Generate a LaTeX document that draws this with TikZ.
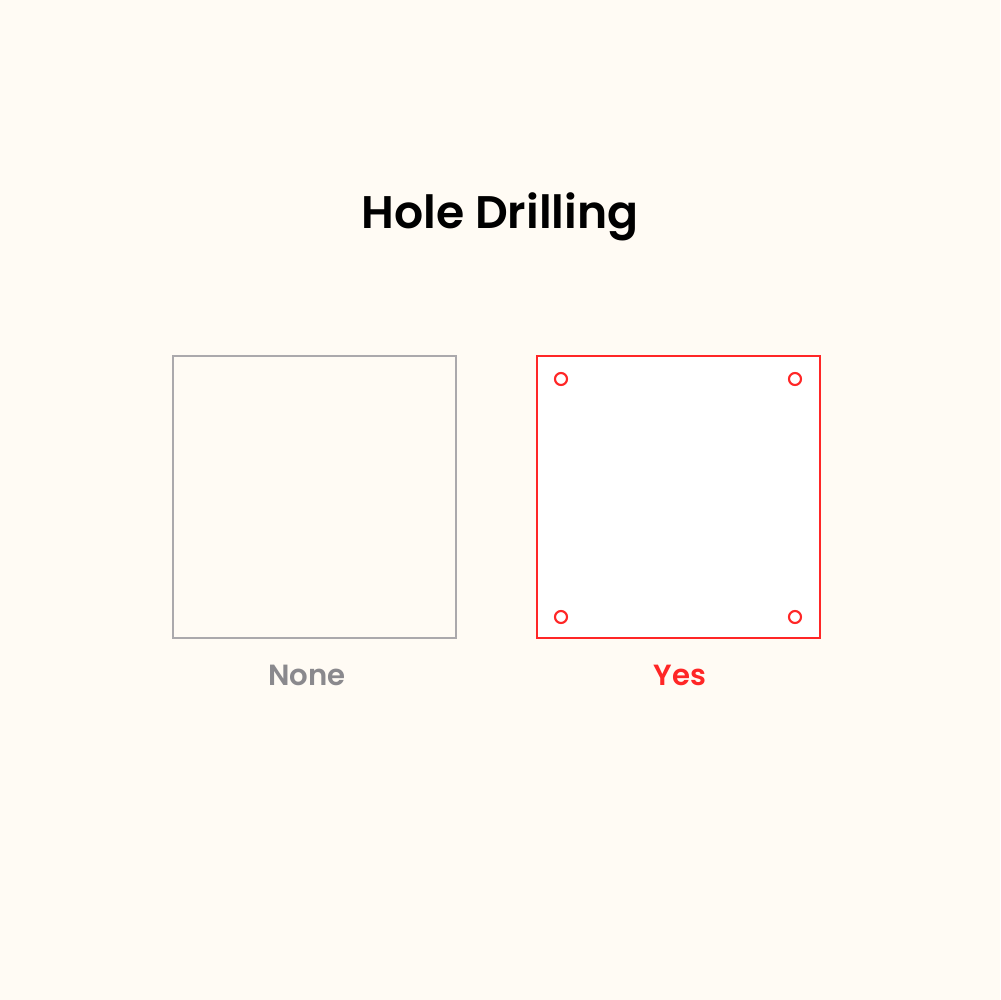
\documentclass[tikz,border=0pt]{standalone}
\usepackage{fontspec}
\setmainfont{Poppins}[BoldFont={Poppins SemiBold}]
\usepackage{tikz}
\definecolor{paper}{HTML}{FFFBF4}
\definecolor{plaingray}{HTML}{ABA9AC}
\definecolor{labelgray}{HTML}{8A898D}
\definecolor{drillred}{HTML}{FF2626}

\begin{document}
\begin{tikzpicture}[x=0.1mm,y=-0.1mm,
        panel/.style={rectangle,draw,line width=0.6pt,minimum width=28.3mm,minimum height=28.2mm,inner sep=0pt},
        hole/.style={circle,draw=drillred,line width=0.6pt,minimum size=1.2mm,inner sep=0pt},
        caption/.style={anchor=base,font=\fontsize{8.3}{10}\selectfont\bfseries}
    ]
        % Background and page size
        \fill[paper] (0,0) rectangle (1000,1000);
        \useasboundingbox (0,0) rectangle (1000,1000);

        % Title
        \node[anchor=base,font=\fontsize{13}{16}\selectfont\bfseries] (title) at (500,228) {Hole Drilling};

        % Define the panels
        \node[panel,draw=plaingray] (none) at (314.5,497) {};
        \node[panel,draw=drillred,fill=white] (yes) at (678.5,497) {};

        % Holes in the corners
        \node[hole] (h1) at (561,379) {};
        \node[hole] (h2) at (795,379) {};
        \node[hole] (h3) at (561,617) {};
        \node[hole] (h4) at (795,617) {};

        % Captions
        \node[caption,text=labelgray] (nonelabel) at (307,685) {None};
        \node[caption,text=drillred] (yeslabel) at (680,685) {Yes};
    \end{tikzpicture}
\end{document}
